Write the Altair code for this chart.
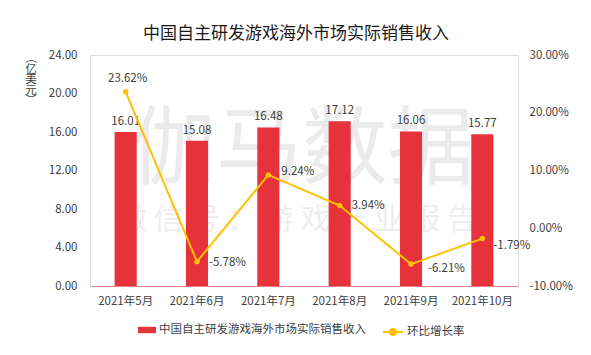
import altair as alt
import pandas as pd

months = ["2021年5月", "2021年6月", "2021年7月", "2021年8月", "2021年9月", "2021年10月"]
revenue = [16.01, 15.08, 16.48, 17.12, 16.06, 15.77]
growth = [23.62, -5.78, 9.24, 3.94, -6.21, -1.79]

bar_name = "中国自主研发游戏海外市场实际销售收入"
line_name = "环比增长率"
title_text = "中国自主研发游戏海外市场实际销售收入"
unit_lines = ["︵", "亿", "美", "元", "︶"]
left_ticks = [0, 4, 8, 12, 16, 20, 24]
right_ticks = [-10, 0, 10, 20, 30]

RED = "#E5323B"
YEL = "#FFC000"
TXT = "#404040"
FONT = "Noto Sans CJK SC"

df = pd.DataFrame({"month": months, "revenue": revenue, "growth": growth})
df["glabel"] = [f"{g:.2f}%" for g in growth]

W, H = 428, 231

x_enc = alt.X(
    "month:N", sort=months, title=None,
    scale=alt.Scale(paddingInner=0.69, paddingOuter=0.345),
    axis=alt.Axis(labelAngle=0, ticks=False, domainColor="#EE7F84", domainWidth=1,
                  labelFontSize=11.5, labelColor=TXT, labelFont=FONT, labelPadding=9,
                  grid=False),
)

base = alt.Chart(df).encode(x=x_enc)

left_scale = alt.Scale(domain=[0, 24], nice=False, zero=True)
left_axis = alt.Axis(values=left_ticks, format=".2f", grid=False, tickCount=7,
                     domain=False, ticks=False, labelFontSize=11.5, labelColor=TXT,
                     labelFont=FONT, labelPadding=13, labelOverlap=False, title=None)

wm1 = alt.Chart(pd.DataFrame({"t": ["伽马数据"]})).mark_text(
    fontSize=86, color="#EBEBEB", font=FONT, align="center", baseline="middle"
).encode(text="t:N", x=alt.value(212), y=alt.value(97))

wm2 = alt.Chart(pd.DataFrame({"t": ["微 信 号 ： 游 戏 产 业 报 告"]})).mark_text(
    fontSize=30, color="#EEEEEE", font=FONT, align="center", baseline="middle"
).encode(text="t:N", x=alt.value(207), y=alt.value(165))

unit = alt.Chart(pd.DataFrame({"t": [0]})).mark_text(
    fontSize=11.5, color=TXT, font=FONT, align="center", baseline="top", lineHeight=10.5
).encode(text=alt.value(unit_lines), x=alt.value(-59), y=alt.value(-2))

bars = base.transform_calculate(s=f"'{bar_name}'").mark_bar().encode(
    y=alt.Y("revenue:Q", scale=left_scale, axis=left_axis),
    color=alt.Color("s:N", scale=alt.Scale(range=[RED]),
                    legend=alt.Legend(title=None, orient="none", legendX=48, legendY=266,
                                      symbolType="M-1,-0.35H1V0.35H-1Z", symbolSize=324,
                                      symbolStrokeWidth=0, labelFontSize=11.5,
                                      labelColor=TXT, labelFont=FONT, labelOffset=3,
                                      labelLimit=400)),
)

bar_labels = base.mark_text(baseline="bottom", dy=-5, fontSize=11.5, color=TXT, font=FONT).encode(
    y=alt.Y("revenue:Q", scale=left_scale, axis=left_axis),
    text=alt.Text("revenue:Q", format=".2f"),
)

left = alt.layer(wm1, wm2, unit, bars, bar_labels)

y_right_scale = alt.Scale(domain=[-10, 30], nice=False, zero=False)
right_axis = alt.Axis(orient="right", values=right_ticks, tickCount=5,
                      labelExpr="replace(format(datum.value, '.2f'), '\u2212', '-') + '%'",
                      grid=False, domain=False, ticks=False, title=None,
                      labelFontSize=11.5, labelColor=TXT, labelFont=FONT,
                      labelPadding=11, labelOverlap=False)

line = base.transform_calculate(s2=f"'{line_name}'").mark_line(
    strokeWidth=2, point=alt.OverlayMarkDef(filled=True, size=30, color=YEL)
).encode(
    y=alt.Y("growth:Q", scale=y_right_scale, axis=right_axis),
    color=alt.Color("s2:N", scale=alt.Scale(range=[YEL]),
                    legend=alt.Legend(title=None, orient="none", legendX=292, legendY=266,
                                      symbolType="M-1,0H1M0.3,0A0.3,0.3,0,1,1,-0.3,0A0.3,0.3,0,1,1,0.3,0Z",
                                      symbolSize=400, symbolStrokeWidth=2,
                                      symbolFillColor=YEL, symbolStrokeColor=YEL,
                                      labelFontSize=11.5, labelColor=TXT, labelFont=FONT,
                                      labelOffset=3, labelLimit=200)),
)

def glabel(sel, align, dx, dy):
    return base.transform_filter(
        alt.FieldOneOfPredicate(field="month", oneOf=sel)
    ).mark_text(align=align, baseline="middle", dx=dx, dy=dy, fontSize=11.5,
                color=TXT, font=FONT).encode(
        y=alt.Y("growth:Q", scale=y_right_scale, axis=right_axis),
        text=alt.Text("glabel:N"),
    )

lab_top = glabel([months[0]], "center", 2, -13)
lab_mid = glabel([months[1], months[3]], "left", 12, 1)
lab_up = glabel([months[2]], "left", 13, -3)
lab_dn = glabel([months[4]], "left", 17, 5)
lab_dn2 = glabel([months[5]], "left", 11, 7)

right = alt.layer(line, lab_top, lab_mid, lab_up, lab_dn, lab_dn2)

chart = alt.layer(left, right).resolve_scale(
    y="independent", color="independent"
).properties(
    width=W, height=H,
    title=alt.TitleParams(title_text, fontSize=17, font=FONT, color="#1a1a1a",
                          fontWeight="normal", anchor="middle", dx=-8, offset=6),
    autosize=alt.AutoSizeParams(type="none"),
    padding={"left": 90, "top": 55, "right": 73, "bottom": 69},
).configure_view(stroke=None).configure(background="white")

chart.save("out.html", embed_options={"renderer": "svg", "actions": False})
